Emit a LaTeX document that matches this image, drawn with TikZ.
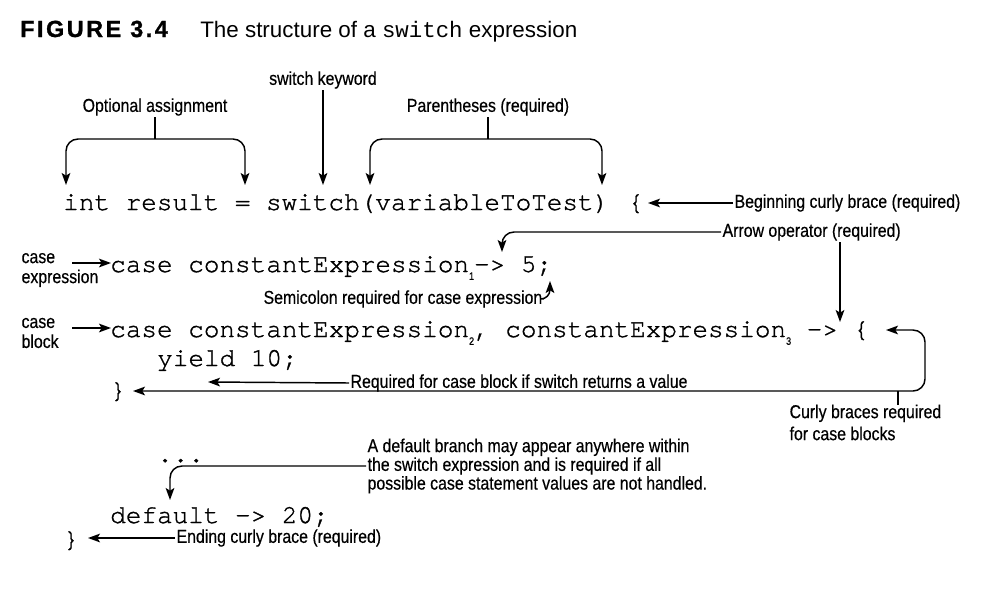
\documentclass[tikz,border=0pt]{standalone}
\usepackage{fontspec}
\setmainfont{Liberation Sans}
\newfontfamily\labfont[FakeStretch=0.85,FakeBold=0.45]{Liberation Sans}
\newfontfamily\figfont[LetterSpace=11,FakeBold=1.2]{Liberation Sans Bold}
\newfontfamily\monosans{Liberation Mono}
\newfontfamily\cursorfont[FakeBold=1.2]{texgyrecursor-regular.otf}
\newcommand\codefont{\cursorfont\fontsize{19.5}{22}\selectfont}
\newcommand\csub[1]{\raisebox{-0.3em}{\labfont\fontsize{8}{8}\selectfont #1}}
\usetikzlibrary{arrows.meta}
\tikzset{
  lab/.style={font=\labfont\fontsize{14}{15}\selectfont, inner sep=1pt},
  code/.style={font=\codefont, inner sep=0pt, anchor=base west},
  con/.style={line width=1.1pt},
  arr/.style={con, -{Stealth[length=9pt,width=6.5pt,inset=2pt]}},
  both/.style={con, {Stealth[length=9pt,width=6.5pt,inset=2pt]}-{Stealth[length=9pt,width=6.5pt,inset=2pt]}},
}
\begin{document}
\begin{tikzpicture}[x=0.75pt,y=-0.75pt]
\useasboundingbox (0,0) rectangle (991,596);
% title
\node[anchor=base west, inner sep=0pt, font=\figfont\fontsize{17.5}{18}\selectfont] (fig) at (20,37) {FIGURE 3.4};
\node[anchor=base west, inner sep=0pt, font=\fontsize{16.8}{18}\selectfont] (ttl) at (200,37) {The structure of a {\monosans switch} expression};
% code
\node[code] (c1) at (63,210) {int result = switch(variableToTest)};
\node[code, anchor=base] (lb) at (636,210) {\{};
\node[code] (c2) at (110,272) {case constantExpression\csub{1}-> 5;};
\node[code] (c3) at (110,337) {case constantExpression\csub{2}, constantExpression\csub{3} -> \{};
\node[code] (c4) at (157,366) {yield 10;};
\node[code] (c5) at (110,398) {\}};
\node[code] (c6) at (157,462) {...};
\node[code] (c7) at (110,523) {default -> 20;};
\node[code] (c8) at (63,547) {\}};
% labels
\node[lab] (kw) at (323,80) {switch keyword};
\node[lab] (opt) at (155,107) {Optional assignment};
\node[lab] (par) at (488,107) {Parentheses (required)};
\node[lab, anchor=west] (beg) at (733,203) {Beginning curly brace (required)};
\node[lab, anchor=west] (aop) at (721,232) {Arrow operator (required)};
\node[lab, anchor=west] (semi) at (262,299) {Semicolon required for case expression};
\node[lab, anchor=west, align=left, font=\labfont\fontsize{14}{15}\selectfont] (cexp) at (20,270) {case\\expression};
\node[lab, anchor=west, align=left, font=\labfont\fontsize{14}{15}\selectfont] (cblk) at (20,333) {case\\block};
\node[lab, anchor=west] (req) at (349,383) {Required for case block if switch returns a value};
\node[lab, anchor=north west, align=left, font=\labfont\fontsize{14}{16.5}\selectfont] (curly) at (788,403) {Curly braces required\\for case blocks};
\node[lab, anchor=west, align=left, font=\labfont\fontsize{14}{12.9}\selectfont] (dflt) at (366,466) {A default branch may appear anywhere within\\the switch expression and is required if all\\possible case statement values are not handled.};
\node[lab, anchor=west] (endl) at (175,538) {Ending curly brace (required)};
% coordinates
\coordinate (kwT) at (323,185);
\coordinate (optL) at (66,185);
\coordinate (optR) at (245,185);
\coordinate (optJ) at (155,139);
\coordinate (parL) at (370,185);
\coordinate (parR) at (602,185);
\coordinate (parJ) at (488,139);
\coordinate (begT) at (648,203);
\coordinate (aopT1) at (502,252);
\coordinate (aopS) at (840,242);
\coordinate (aopT2) at (840,322);
\coordinate (semiT) at (550,281);
\coordinate (cexpA) at (72,263);
\coordinate (cexpT) at (111,263);
\coordinate (cblkA) at (72,328);
\coordinate (cblkT) at (111,328);
\coordinate (reqT) at (208,382);
\coordinate (rbT) at (133,391);
\coordinate (cbJ) at (925,360);
\coordinate (lbT) at (886,330);
\coordinate (cbS) at (898,405);
\coordinate (dfT) at (170,500);
\coordinate (endT) at (88,538);
% connectors
\draw[arr] (kw.south) -- (kw.south |- kwT);
\draw[con] (opt.south) -- (optJ);
\draw[both, rounded corners=9pt] (optL) |- (optJ) -| (optR);
\draw[con] (par.south) -- (parJ);
\draw[both, rounded corners=9pt] (parL) |- (parJ) -| (parR);
\draw[arr] (beg.west) -- (begT);
\draw[arr, rounded corners=9pt] (aop.west) -| (aopT1);
\draw[arr] (aopS) -- (aopT2);
\draw[arr, rounded corners=7pt] (semi.east) -| (semiT);
\draw[arr] (cexpA) -- (cexpT);
\draw[arr] (cblkA) -- (cblkT);
\draw[arr] (req.west) -- (reqT);
\draw[both, rounded corners=9pt] (rbT) -| (cbJ) |- (lbT);
\draw[con] (cbS) -- (cbS |- rbT);
\draw[arr, rounded corners=9pt] (dflt.west) -| (dfT);
\draw[arr] (endl.west) -- (endT);
\end{tikzpicture}
\end{document}
